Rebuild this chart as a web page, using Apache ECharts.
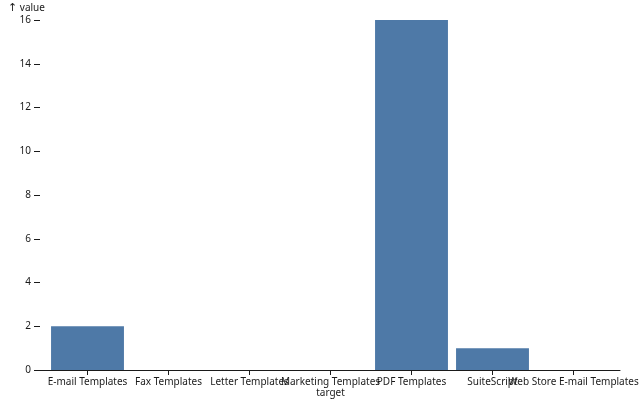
<!DOCTYPE html>
<html>
<head>
<meta charset="utf-8">
<script src="https://cdn.jsdelivr.net/npm/echarts@6/dist/echarts.min.js"></script>
<style>
  html, body { margin: 0; padding: 0; background: #fff; }
  #chart { width: 640px; height: 400px; }
</style>
</head>
<body>
<div id="chart"></div>
<script>
var categories = ['E-mail Templates', 'Fax Templates', 'Letter Templates', 'Marketing Templates', 'PDF Templates', 'SuiteScript', 'Web Store E-mail Templates'];
var values = [2, 0, 0, 0, 16, 1, 0];
var yMin = 0, yMax = 16, yStep = 2;

var font = '"Noto Sans", sans-serif';
var ink = '#1a1a1a';

var chart = echarts.init(document.getElementById('chart'));
var option = {
  animation: false,
  title: {
    text: '{a|↑} value',
    left: 3,
    top: -2,
    textStyle: {
      fontFamily: font, fontSize: 10, fontWeight: 'normal', color: ink,
      rich: { a: { fontFamily: '"DejaVu Sans"', fontSize: 11, color: ink } }
    }
  },
  grid: [
    // bands
    { left: 47, right: 26, top: 20, bottom: 30, containLabel: false, outerBoundsMode: 'none' },
    // frame for y axis + baseline
    { left: 40, right: 20, top: 20, bottom: 30, containLabel: false, outerBoundsMode: 'none' }
  ],
  xAxis: [
    {
      gridIndex: 0,
      type: 'category',
      data: categories,
      name: 'target',
      nameLocation: 'middle',
      nameGap: 18,
      nameMoveOverlap: false,
      nameTextStyle: { fontFamily: font, fontSize: 10, color: ink },
      axisLine: { show: false },
      axisTick: { show: true, alignWithLabel: true, length: 5, lineStyle: { color: ink } },
      axisLabel: { interval: 0, margin: 7, fontFamily: font, fontSize: 10, color: ink, hideOverlap: false }
    },
    {
      gridIndex: 1,
      type: 'value',
      min: 0,
      max: 1,
      axisLine: { show: true, lineStyle: { color: ink, width: 1 } },
      axisTick: { show: false },
      axisLabel: { show: false },
      splitLine: { show: false }
    }
  ],
  yAxis: [
    {
      gridIndex: 0,
      type: 'value',
      min: yMin,
      max: yMax,
      interval: yStep,
      show: false
    },
    {
      gridIndex: 1,
      type: 'value',
      min: yMin,
      max: yMax,
      interval: yStep,
      axisLine: { show: false },
      axisTick: { show: true, length: 6, lineStyle: { color: ink } },
      axisLabel: { margin: 9, fontFamily: font, fontSize: 10, color: ink },
      splitLine: { show: false }
    }
  ],
  series: [
    {
      type: 'bar',
      xAxisIndex: 0,
      yAxisIndex: 0,
      data: values,
      barWidth: '90%',
      itemStyle: { color: '#4e79a7' }
    }
  ]
};
option && chart.setOption(option);
</script>
</body>
</html>
